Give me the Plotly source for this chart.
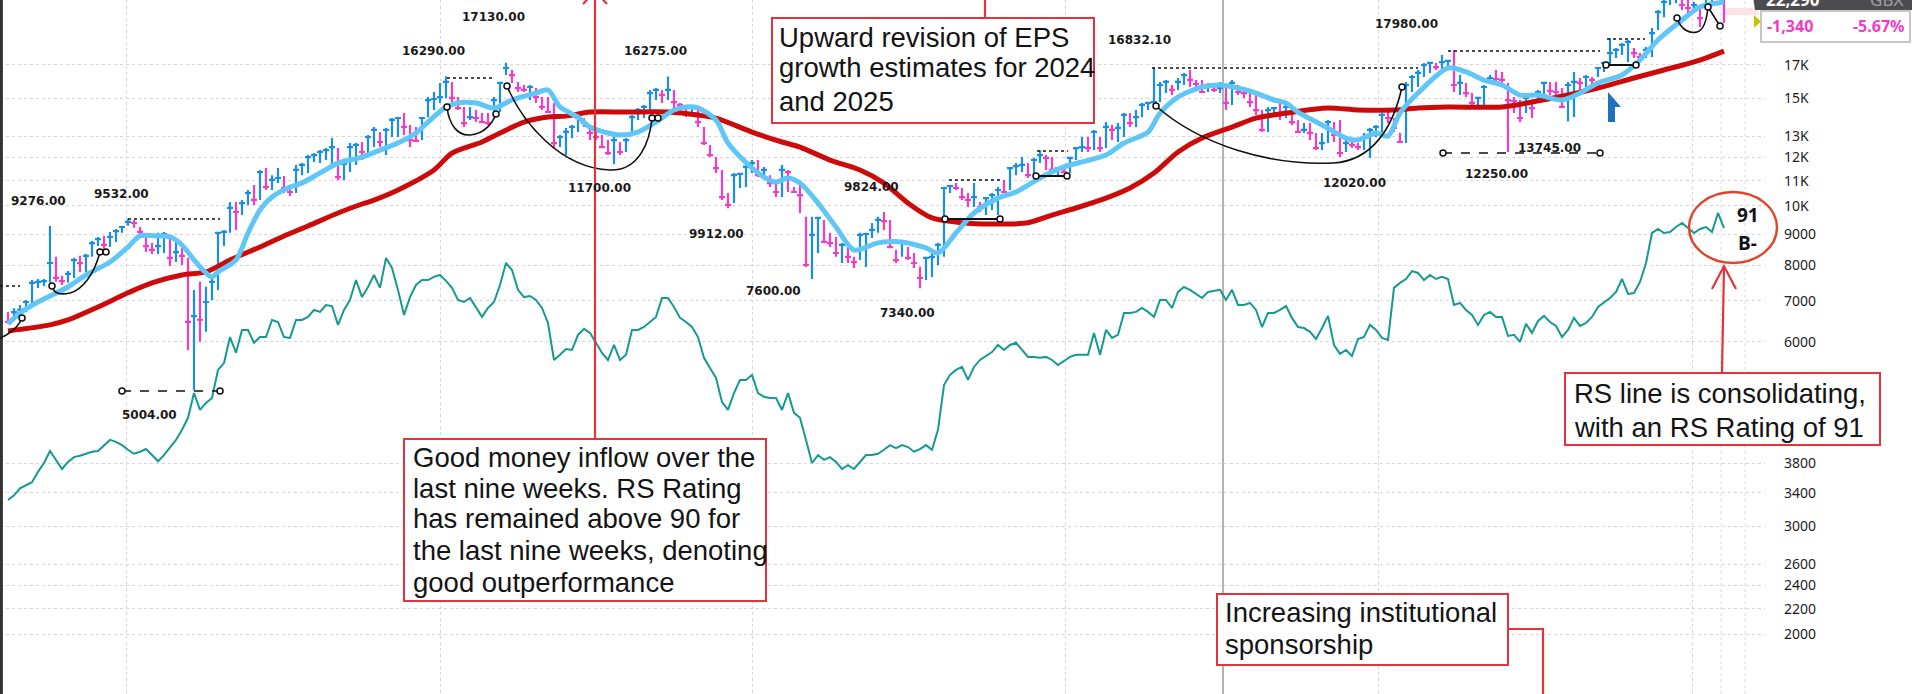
import math
import pandas as pd
import plotly.graph_objects as go

# ------------------------------------------------------------------ data
first_week = "2019-08-16"

high = [6710, 6810, 6890, 7020, 7570, 7600, 7600, 9276, 8260, 7690,
        7830, 8230, 8290, 8350, 8770, 8900, 8930, 9070, 9170, 9280,
        9532, 9490, 9240, 8930, 8700, 9040, 9070, 8870, 8800, 8540,
        8230, 7290, 7520, 7380, 7630, 9070, 9140, 10150, 10150, 10230,
        10620, 10820, 11450, 11530, 11230, 11530, 11190, 10820, 11670, 11750,
        12110, 12200, 12340, 12430, 12910, 12430, 11750, 12670, 12670, 12720,
        13060, 13460, 13210, 13410, 13920, 13970, 14180, 13560, 13460, 13970,
        15060, 15350, 15880, 16290, 15940, 15060, 14510, 14510, 14340, 14180,
        14180, 15060, 15940, 17130, 16670, 15940, 15760, 15760, 15580, 15060,
        15060, 14730, 13060, 13410, 13560, 13970, 13920, 13410, 13210, 13060,
        12810, 12960, 12720, 12910, 14080, 14450, 14620, 15470, 15580, 15470,
        16275, 15470, 14730, 14510, 14620, 14340, 13460, 12580, 12020, 11450,
        10500, 11320, 11320, 11750, 11890, 11890, 11580, 11230, 10900, 11670,
        11450, 10740, 10820, 9600, 9600, 9600, 9490, 9040, 8900, 8700,
        8570, 8260, 9040, 9040, 9380, 9600, 9780, 9490, 8480, 8800,
        8570, 8380, 7950, 8260, 8380, 8700, 10740, 10820, 10900, 10700,
        10500, 10900, 10150, 10340, 10500, 10740, 11030, 11580, 11750, 12020,
        11750, 11980, 12340, 12110, 12020, 11580, 11670, 12020, 12480, 12960,
        12960, 13310, 12960, 13710, 13560, 13660, 14180, 14180, 14340, 14730,
        14780, 16832.1, 15940, 16060, 15760, 16180, 16490, 16670, 16060, 16060,
        15880, 15760, 15940, 15640, 16060, 15760, 15470, 15470, 15290, 14340,
        14510, 14510, 14890, 14730, 14240, 13820, 13660, 13660, 13160, 13160,
        13820, 13710, 13820, 12810, 12810, 12670, 13160, 13410, 13560, 14180,
        14340, 13920, 13160, 15940, 16360, 16670, 17120, 17180, 17120, 17640,
        17310, 17980, 16360, 15880, 15290, 15060, 15760, 16360, 16670, 16550,
        15880, 15060, 14890, 15060, 14780, 15470, 15940, 15940, 15940, 15580,
        15940, 16550, 16180, 16360, 16240, 16860, 17180, 18800, 18110, 18460,
        18660, 18110, 17770, 18180, 19530, 20890, 21690, 22360, 22690, 22360,
        21690, 21530, 21290, 21940, 22520, 24280, 24100]

low = [6420, 6520, 6610, 6710, 6890, 7350, 7400, 7490, 7520, 7430,
       7490, 7630, 7800, 7800, 8260, 8600, 8480, 8570, 8730, 9040,
       9280, 9210, 8930, 8410, 8350, 8350, 8380, 7980, 8100, 8010,
       5820, 5004, 6000, 6230, 7020, 7290, 8600, 9040, 9140, 9670,
       10040, 10040, 10230, 10620, 10620, 10900, 10500, 10380, 10500, 11230,
       11320, 11800, 11750, 11890, 11580, 11030, 11030, 11360, 11670, 11890,
       12200, 12480, 12480, 12110, 12960, 12960, 13060, 12480, 12720, 12810,
       13970, 14340, 14730, 15010, 14780, 14340, 13460, 13820, 13710, 13660,
       13560, 13970, 14240, 16360, 15880, 15350, 15350, 14890, 14730, 14340,
       14180, 12430, 12480, 12110, 12910, 13210, 13460, 12810, 12810, 12430,
       12110, 11700, 12110, 12250, 13210, 13820, 13920, 14180, 14890, 14730,
       14890, 14450, 14080, 13970, 14080, 13460, 12580, 12020, 11320, 10230,
       9912, 10110, 10700, 10740, 11320, 11150, 11150, 10740, 10340, 10340,
       10540, 10500, 9740, 7950, 7600, 8380, 8700, 8570, 8260, 8070,
       8070, 7920, 8160, 7950, 8870, 9040, 9140, 8540, 8070, 8260,
       8160, 7920, 7340, 7570, 7660, 8010, 8260, 10500, 10620, 10230,
       9960, 9960, 9780, 9670, 9850, 9670, 10500, 10620, 11230, 11360,
       11110, 11230, 11750, 11450, 11360, 11230, 11320, 11320, 11890, 12250,
       12250, 12340, 12250, 12430, 12810, 12720, 12960, 13460, 13460, 13970,
       14340, 14560, 14780, 15290, 15180, 15470, 15760, 15640, 15640, 15290,
       15350, 15350, 15290, 14340, 14620, 15180, 15010, 14510, 14080, 13210,
       13210, 14080, 13820, 13920, 13560, 13160, 13160, 12810, 12340, 12340,
       12670, 12720, 12020, 12250, 12430, 12340, 12340, 11980, 12960, 13210,
       13660, 13210, 12670, 12670, 15350, 15640, 16240, 16490, 16670, 16670,
       16860, 15350, 15180, 15060, 14450, 14620, 14620, 15880, 15880, 15880,
       12250, 14180, 13710, 14180, 13920, 14730, 15060, 15180, 15180, 14450,
       13745, 13970, 15350, 15640, 15760, 16240, 16550, 16990, 17440, 17640,
       17180, 17440, 17180, 17440, 17510, 19380, 20340, 21290, 21450, 20890,
       20660, 20810, 19600, 20890, 21290, 21860, 19900]

close = [6470, 6710, 6770, 6970, 7490, 7520, 7540, 8070, 7630, 7540,
         7750, 8160, 8070, 8290, 8700, 8830, 8640, 8900, 9100, 9240,
         9420, 9380, 9070, 8600, 8480, 8600, 9000, 8230, 8410, 8290,
         6470, 6610, 6520, 6970, 7520, 9040, 9070, 9930, 9780, 10110,
         10500, 10230, 11360, 10740, 11030, 11110, 10700, 10540, 11450, 11670,
         12020, 12110, 12250, 12340, 12480, 11150, 11710, 12480, 12580, 12250,
         12960, 13310, 12720, 13310, 13820, 13920, 13460, 12810, 12770, 13920,
         14890, 14950, 15060, 15940, 15010, 14450, 13660, 13970, 13920, 13710,
         13660, 14890, 15880, 16800, 16360, 15580, 15470, 15640, 15060, 14510,
         14240, 12670, 12960, 13210, 13460, 13920, 13660, 13160, 12960, 12480,
         12200, 12810, 12250, 12810, 13970, 14340, 14510, 15290, 15470, 15180,
         15470, 14780, 14620, 14450, 14510, 13710, 12670, 12110, 11530, 10340,
         10040, 11230, 11280, 11580, 11750, 11230, 11450, 10900, 10540, 11450,
         11360, 10540, 10420, 8010, 8970, 9560, 8740, 8700, 8380, 8640,
         8260, 8100, 8970, 9000, 9140, 9490, 9450, 8570, 8160, 8740,
         8230, 8070, 7630, 8230, 8260, 8640, 10700, 10780, 10700, 10340,
         10230, 10340, 9960, 10300, 10420, 10620, 10540, 11530, 11620, 11670,
         11230, 11890, 12110, 11980, 11450, 11530, 11360, 11980, 12430, 12480,
         12430, 13210, 12430, 13460, 13310, 13410, 14080, 13660, 13970, 14620,
         14730, 14780, 15760, 15940, 15470, 15940, 16360, 16060, 15820, 15350,
         15700, 15470, 15580, 14730, 15880, 15350, 15290, 14780, 14340, 13310,
         14340, 14450, 14180, 14510, 13710, 13210, 13310, 13160, 12430, 12670,
         13710, 13060, 12200, 12670, 12580, 12480, 12960, 13310, 13460, 14080,
         13920, 13410, 12720, 15760, 16240, 16490, 16990, 17120, 16860, 17180,
         17250, 15760, 15880, 15290, 14730, 15010, 15640, 16180, 16120, 16060,
         14890, 14840, 13920, 15010, 14450, 15350, 15880, 15410, 15350, 14510,
         15760, 15940, 15880, 16240, 16060, 16800, 17120, 17770, 17980, 18320,
         18530, 17770, 17510, 17980, 19160, 20730, 21530, 21940, 22190, 21290,
         21050, 21290, 20270, 21290, 21860, 23630, 22290]

rs_line = [3310, 3370, 3460, 3500, 3540, 3680, 3805, 3980, 3850, 3720,
           3820, 3890, 3910, 3940, 3970, 3980, 4070, 4150, 4120, 4070,
           4000, 3940, 3970, 4010, 3920, 3830, 3920, 4040, 4150, 4310,
           4510, 4950, 4645, 4770, 4860, 5400, 5540, 6110, 5760, 6275,
           6275, 5980, 6110, 6110, 6515, 6465, 6110, 6090, 6515, 6515,
           6590, 6765, 6715, 6890, 6865, 6395, 6765, 7025, 7570, 7100,
           7375, 7715, 7350, 8225, 7920, 7295, 6640, 7100, 7430, 7570,
           7570, 7660, 7715, 7545, 7350, 7025, 6970, 7075, 6815, 6590,
           6815, 6970, 7430, 8070, 7860, 7295, 7100, 7130, 7025, 6815,
           6440, 5605, 5715, 5840, 5820, 6160, 6300, 6205, 5980, 5755,
           5605, 5930, 5605, 5715, 6275, 6275, 6345, 6465, 6590, 7075,
           7075, 6840, 6565, 6465, 6345, 6110, 5650, 5440, 5240, 4785,
           4645, 4950, 5200, 5200, 5300, 4950, 4880, 4860, 4860, 4645,
           4950, 4595, 4510, 4150, 3805, 3920, 3850, 3890, 3820, 3720,
           3775, 3720, 3820, 3920, 3920, 3940, 4000, 4070, 4025, 4070,
           4040, 3970, 4010, 4070, 4000, 4310, 5100, 5300, 5400, 5460,
           5200, 5460, 5605, 5690, 5775, 5930, 5820, 5930, 5980, 5820,
           5670, 5670, 5650, 5670, 5605, 5500, 5585, 5670, 5715, 5715,
           5715, 6205, 5715, 6275, 6090, 6160, 6690, 6690, 6715, 6815,
           6715, 6590, 7025, 7025, 6815, 7240, 7375, 7295, 7185, 7075,
           7240, 7265, 7295, 7025, 7295, 6895, 6895, 6945, 6765, 6345,
           6690, 6690, 6765, 6865, 6565, 6345, 6320, 6230, 6065, 6320,
           6615, 5930, 5735, 5820, 5690, 6065, 6110, 6395, 6275, 6090,
           6045, 7350, 7490, 7600, 7830, 7775, 7570, 7715, 7600, 7660,
           7600, 6895, 6945, 6765, 6640, 6395, 6640, 6715, 6590, 6590,
           6135, 6160, 6000, 6420, 6205, 6490, 6615, 6465, 6370, 6110,
           6275, 6565, 6370, 6440, 6590, 6840, 6945, 7075, 7240, 7600,
           7185, 7210, 7515, 8070, 9035, 9170, 9035, 9070, 9240, 9380,
           9205, 9035, 9170, 9240, 9070, 9740, 9205]

ma10_week = [0, 2, 5, 10, 13, 17, 20, 22, 25, 27, 29, 31, 33, 34, 35, 38, 40, 42, 44, 47,
             49, 52, 55, 59, 62, 65, 68, 70, 73, 75, 78, 81, 84, 88, 90, 92, 95, 97, 100, 102,
             105, 108, 111, 113, 115, 118, 120, 123, 126, 128, 130, 132, 135, 138, 141, 145, 149, 153, 155, 158,
             161, 165, 168, 172, 176, 179, 183, 186, 190, 192, 195, 199, 202, 205, 208, 211, 213, 215, 219, 223,
             225, 228, 230, 232, 235, 240, 243, 246, 249, 252, 255, 259, 262, 265, 269, 272, 275, 279, 282, 286]
ma10_value = [6420, 6690, 6970, 7375, 7715, 8100, 8570, 8935, 8935, 8900, 8635, 8165, 7775, 7660, 7805, 8165, 9035, 9850, 10340, 10740,
              10900, 11320, 11750, 12020, 12340, 12670, 13155, 13710, 14510, 14730, 14730, 14450, 14895, 15290, 15465, 14510, 13970, 13455, 13155, 13055,
              13205, 13710, 14345, 14510, 14455, 13815, 12670, 11775, 11150, 10940, 11110, 10900, 10110, 9240, 8475, 8705, 8735, 8540, 8380, 9035,
              9740, 10300, 10540, 11110, 11580, 11800, 12110, 12670, 13205, 14180, 15060, 15640, 15760, 15580, 15290, 14895, 14730, 14235, 13560, 12910,
              12815, 13155, 13005, 14180, 15290, 16800, 16550, 16055, 15760, 15175, 15175, 14895, 15290, 15880, 16360, 17310, 18665, 20120, 21130, 21530]

ma40_week = [0, 7, 10, 15, 20, 24, 29, 33, 37, 42, 46, 50, 55, 59, 61, 65, 71, 74, 79, 82,
             86, 90, 93, 97, 103, 110, 115, 118, 124, 129, 132, 137, 142, 146, 150, 154, 159, 164, 170, 174,
             178, 183, 187, 191, 195, 199, 204, 208, 213, 220, 225, 231, 235, 240, 249, 254, 260, 265, 271, 276,
             282, 286]
ma40_value = [6250, 6395, 6515, 6840, 7215, 7490, 7715, 7805, 8165, 8570, 8935, 9275, 9740, 10075, 10225, 10620, 11450, 12200, 12720, 13155,
              13710, 13970, 14020, 14235, 14235, 14235, 14075, 13915, 13205, 12720, 12480, 11885, 11450, 10900, 10110, 9560, 9390, 9345, 9390, 9665,
              9925, 10300, 10700, 11320, 12250, 12910, 13455, 13915, 14180, 14455, 14345, 14345, 14455, 14510, 14510, 14780, 15175, 15580, 16180, 16675,
              17310, 17900]

tick_values = [2000, 2200, 2400, 2600, 3000, 3400, 3800, 6000, 7000, 8000, 9000,
               10000, 11000, 12000, 13000, 15000, 17000]
tick_text = ["2000", "2200", "2400", "2600", "3000", "3400", "3800", "6000", "7000", "8000", "9000",
             "10K", "11K", "12K", "13K", "15K", "17K"]

price_labels = ["9276.00", "9532.00", "5004.00", "16290.00", "17130.00", "11700.00", "16275.00",
                "9912.00", "7600.00", "9824.00", "7340.00", "16832.10", "12020.00", "17980.00",
                "13745.00", "12250.00"]

last_price_text = "22,290"
currency_text = "GBX"
change_text = "-1,340"
change_pct_text = "-5.67%"
rs_rating_text = "91"
comp_rating_text = "B-"

notes = [
    ["Upward revision of EPS", "growth estimates for 2024", "and 2025"],
    ["Good money inflow over the", "last nine weeks. RS Rating", "has remained above 90 for",
     "the last nine weeks, denoting", "good outperformance"],
    ["Increasing institutional", "sponsorship"],
    ["RS line is consolidating,", "with an RS Rating of 91"],
]

# ------------------------------------------------------------------ geometry / styles
W, H = 1912, 694
PW, PH = 1765, 694
BLUE = "#1a8ee6"
MAGENTA = "#f03cc6"
RED = "#e5323f"
LIGHT_MA = "#5fc6f6"
DARK_MA = "#cc0a0a"
TEAL = "#16998f"


def X(px):
    return px / PW


def Y(py):
    return 1 - py / PH


n = len(close)
dates = list(pd.date_range(first_week, periods=n, freq="7D"))
up = [False] + [close[i] >= close[i - 1] for i in range(1, n)]

fig = go.Figure()


def add_bars(mask, color):
    idx = [i for i in range(n) if mask[i]]
    fig.add_trace(go.Ohlc(
        x=[dates[i] for i in idx],
        open=[close[i] for i in idx],
        high=[high[i] for i in idx],
        low=[low[i] for i in idx],
        close=[close[i] for i in idx],
        increasing=dict(line=dict(color=color, width=2.2)),
        decreasing=dict(line=dict(color=color, width=2.2)),
        tickwidth=0.5, hoverinfo="skip", showlegend=False))


add_bars(up, BLUE)
add_bars([not u for u in up], MAGENTA)

fig.add_trace(go.Scatter(x=dates, y=rs_line, mode="lines",
                         line=dict(color=TEAL, width=2), hoverinfo="skip", showlegend=False))
fig.add_trace(go.Scatter(x=[dates[i] for i in ma40_week], y=ma40_value, mode="lines",
                         line=dict(color=DARK_MA, width=5, shape="spline", smoothing=0.8),
                         hoverinfo="skip", showlegend=False))
fig.add_trace(go.Scatter(x=[dates[i] for i in ma10_week], y=ma10_value, mode="lines",
                         line=dict(color=LIGHT_MA, width=5, shape="spline", smoothing=0.8),
                         hoverinfo="skip", showlegend=False))

shapes = []
annotations = []

# left frame edge
shapes.append(dict(type="line", xref="paper", yref="paper", x0=0.0008, x1=0.0008, y0=0, y1=1,
                   line=dict(color="#333333", width=3)))
# vertical marker lines
shapes.append(dict(type="line", xref="paper", yref="paper", x0=X(1223), x1=X(1223), y0=0, y1=1,
                   line=dict(color="#9a9a9a", width=1.5), layer="below"))
for vx in (1721, 1745):
    shapes.append(dict(type="line", xref="paper", yref="paper", x0=X(vx), x1=X(vx), y0=0, y1=1,
                       line=dict(color="#dcdcdc", width=1, dash="dot"), layer="below"))

# chart drawings (pivot lines, bases, cups)
dotted = [(0, 20, 286), (128, 220, 219), (447, 493, 78), (949, 1002, 180), (1037, 1068, 151),
          (1152, 1418, 68), (1448, 1600, 51), (1607, 1645, 39)]
for x0, x1, yy in dotted:
    shapes.append(dict(type="line", xref="paper", yref="paper", x0=X(x0), x1=X(x1), y0=Y(yy), y1=Y(yy),
                       line=dict(color="#111111", width=1.6, dash="dot")))
circles = []
solid = [(945, 1000, 219), (1036, 1067, 176), (1606, 1636, 65)]
for x0, x1, yy in solid:
    shapes.append(dict(type="line", xref="paper", yref="paper", x0=X(x0), x1=X(x1), y0=Y(yy), y1=Y(yy),
                       line=dict(color="#111111", width=2)))
    circles += [(x0, yy), (x1, yy)]
dashed = [(122, 220, 391), (1443, 1600, 153)]
for x0, x1, yy in dashed:
    shapes.append(dict(type="line", xref="paper", yref="paper", x0=X(x0), x1=X(x1), y0=Y(yy), y1=Y(yy),
                       line=dict(color="#111111", width=1.6, dash="dash")))
    circles += [(x0, yy), (x1, yy)]


def P(pts):
    return " ".join(f"{X(a):.5f},{Y(b):.5f}" for a, b in pts)


arcs = [
    "M " + P([(0, 338)]) + " C " + P([(8, 335), (18, 328), (22, 318)]),
    "M " + P([(52, 286)]) + " C " + P([(54, 294), (60, 295), (70, 293)]) + " C " + P([(82, 290), (94, 275), (100, 252)]),
    "M " + P([(447, 107)]) + " C " + P([(449, 125), (458, 136), (470, 135)]) + " C " + P([(485, 134), (493, 122), (496, 114)]),
    "M " + P([(507, 86)]) + " C " + P([(522, 122), (560, 168), (610, 170)]) + " C " + P([(640, 171), (650, 140), (652, 118)]),
    "M " + P([(1156, 106)]) + " C " + P([(1200, 145), (1270, 166), (1333, 163)]) + " C " + P([(1372, 161), (1393, 128), (1402, 87)]),
    "M " + P([(1677, 18)]) + " C " + P([(1681, 30), (1690, 34), (1697, 32)]) + " C " + P([(1704, 30), (1707, 18), (1708, 7)]) + " L " + P([(1720, 26)]),
]
for p in arcs:
    shapes.append(dict(type="path", xref="paper", yref="paper", path=p,
                       line=dict(color="#111111", width=1.6)))
circles += [(22, 318), (52, 286), (100, 252), (106, 252), (447, 107), (496, 114), (507, 86),
            (652, 118), (658, 118), (1156, 106), (1402, 87), (1677, 18), (1708, 7), (1720, 26)]
for cx, cy in circles:
    shapes.append(dict(type="circle", xref="paper", yref="paper", x0=X(cx - 3), x1=X(cx + 3),
                       y0=Y(cy + 3), y1=Y(cy - 3), line=dict(color="#111111", width=1.5),
                       fillcolor="white"))

# blue cursor flag
shapes.append(dict(type="path", xref="paper", yref="paper",
                   path="M " + P([(1608, 92)]) + " L " + P([(1621, 107)]) + " L " + P([(1615, 107)]) +
                        " L " + P([(1615, 122)]) + " L " + P([(1608, 122)]) + " Z",
                   fillcolor="#1f6fc2", line=dict(width=0)))

# price labels
label_pos = [(38, 201), (122, 194), (149, 415), (433, 51), (493, 17), (599, 188), (655, 51),
             (716, 234), (773, 291), (871, 187), (908, 313), (1139, 40), (1354, 183), (1406, 24),
             (1549, 148), (1496, 174)]
for txt, (lx, ly) in zip(price_labels, label_pos):
    annotations.append(dict(xref="paper", yref="paper", x=X(lx), y=Y(ly), text=f"<b>{txt}</b>",
                            showarrow=False, font=dict(family="DejaVu Sans", size=12, color="#1a1a1a"),
                            xanchor="center", yanchor="middle"))

# note boxes: (box x0, y0, x1, y1, text left, line centres)
boxes = [(772, 18, 1094, 123, 777, [37, 68, 101]),
         (404, 439, 766, 601, 411, [457, 488, 518, 550, 582]),
         (1217, 594, 1508, 665, 1223, [612, 644]),
         (1565, 373, 1880, 445, 1572, [393, 427])]
for (bx0, by0, bx1, by1, tx, line_y), lines in zip(boxes, notes):
    shapes.append(dict(type="rect", xref="paper", yref="paper", x0=X(bx0), x1=X(bx1), y0=Y(by1), y1=Y(by0),
                       fillcolor="white", line=dict(color=RED, width=2), layer="above"))
    for ly, txt in zip(line_y, lines):
        annotations.append(dict(xref="paper", yref="paper", x=X(tx), y=Y(ly), text=txt, showarrow=False,
                                align="left", xanchor="left", yanchor="middle",
                                font=dict(family="Liberation Sans", size=27.5, color="#141414")))

# connector lines
connectors = [
    [(595, 439), (595, -20)],
    [(583, 4), (595, -9), (607, 4)],
    [(985, 18), (985, -20)],
    [(1508, 629), (1543, 629), (1543, 700)],
    [(1722, 373), (1724, 267)],
    [(1712, 289), (1724, 266), (1736, 289)],
]
for pts in connectors:
    path = "M " + P(pts[:1]) + "".join(" L " + P([q]) for q in pts[1:])
    shapes.append(dict(type="path", xref="paper", yref="paper", path=path,
                       line=dict(color=RED, width=2.2), layer="above"))

# RS rating ellipse
shapes.append(dict(type="circle", xref="paper", yref="paper", x0=X(1689), x1=X(1777), y0=Y(263), y1=Y(192),
                   line=dict(color="#e0452c", width=2.5)))
annotations.append(dict(xref="paper", yref="paper", x=X(1748), y=Y(215), text=f"<b>{rs_rating_text}</b>",
                        showarrow=False, xanchor="center", yanchor="middle",
                        font=dict(family="Open Sans", size=19, color="#111")))
annotations.append(dict(xref="paper", yref="paper", x=X(1747), y=Y(243), text=f"<b>{comp_rating_text}</b>",
                        showarrow=False, xanchor="center", yanchor="middle",
                        font=dict(family="Open Sans", size=19, color="#111")))

# top-right price tag
shapes.append(dict(type="rect", xref="paper", yref="paper", x0=X(1723), x1=X(1758), y0=Y(15), y1=Y(8),
                   fillcolor="#fde2e8", line=dict(width=0), layer="below"))
shapes.append(dict(type="path", xref="paper", yref="paper",
                   path="M " + P([(1749, -30)]) + " L " + P([(1912, -30)]) + " L " + P([(1912, 10)]) +
                        " L " + P([(1755, 10)]) + " Z",
                   fillcolor="#4b4b50", line=dict(width=0)))
shapes.append(dict(type="rect", xref="paper", yref="paper", x0=X(1761), x1=X(1910), y0=Y(42), y1=Y(11),
                   fillcolor="white", line=dict(color="#c6c6c6", width=2)))
shapes.append(dict(type="path", xref="paper", yref="paper",
                   path="M " + P([(1754, 15)]) + " L " + P([(1761, 21.5)]) + " L " + P([(1754, 28)]) + " Z",
                   fillcolor="#c8c400", line=dict(width=0)))
annotations.append(dict(xref="paper", yref="paper", x=X(1764), y=Y(-1), text=f"<b>{last_price_text}</b>",
                        showarrow=False, xanchor="left", yanchor="middle",
                        font=dict(family="Noto Sans", size=17, color="white")))
annotations.append(dict(xref="paper", yref="paper", x=X(1905), y=Y(-1), text=currency_text,
                        showarrow=False, xanchor="right", yanchor="middle",
                        font=dict(family="Noto Sans", size=17, color="#a0a0a0")))
annotations.append(dict(xref="paper", yref="paper", x=X(1765), y=Y(26.5), text=f"<b>{change_text}</b>",
                        showarrow=False, xanchor="left", yanchor="middle",
                        font=dict(family="Noto Sans", size=16, color=MAGENTA)))
annotations.append(dict(xref="paper", yref="paper", x=X(1907), y=Y(26.5), text=f"<b>{change_pct_text}</b>",
                        showarrow=False, xanchor="right", yanchor="middle",
                        font=dict(family="Noto Sans", size=16, color=MAGENTA)))

year_lines = ["2020-01-01", "2021-01-01", "2022-01-01", "2023-01-01", "2024-01-01", "2025-01-01"]

fig.update_layout(
    width=W, height=H, autosize=False,
    margin=dict(l=0, r=W - PW, t=0, b=0),
    paper_bgcolor="white", plot_bgcolor="white",
    showlegend=False, hovermode=False,
    shapes=shapes, annotations=annotations,
    xaxis=dict(type="date", range=["2019-08-06 16:00", "2025-03-26 20:00"],
               rangeslider=dict(visible=False), showticklabels=False, ticks="",
               tickvals=year_lines, showgrid=True, gridcolor="#d6d6d6", griddash="dot",
               gridwidth=1, zeroline=False, showline=False, fixedrange=True),
    yaxis=dict(type="log", side="right",
               range=[math.log10(1596.6), math.log10(21693)],
               tickvals=tick_values, ticktext=tick_text, ticks="",
               ticklabelstandoff=18, automargin=False,
               tickfont=dict(family="Noto Sans", size=14, color="#1c1c1c"),
               showgrid=True, gridcolor="#d6d6d6", griddash="dot", gridwidth=1,
               zeroline=False, showline=False, fixedrange=True),
)

fig.write_html(
    "out.html",
    config={"displayModeBar": False, "staticPlot": True},
    post_script="document.body.style.margin='0px';document.body.style.padding='0px';"
                "document.body.style.overflow='hidden';",
)
